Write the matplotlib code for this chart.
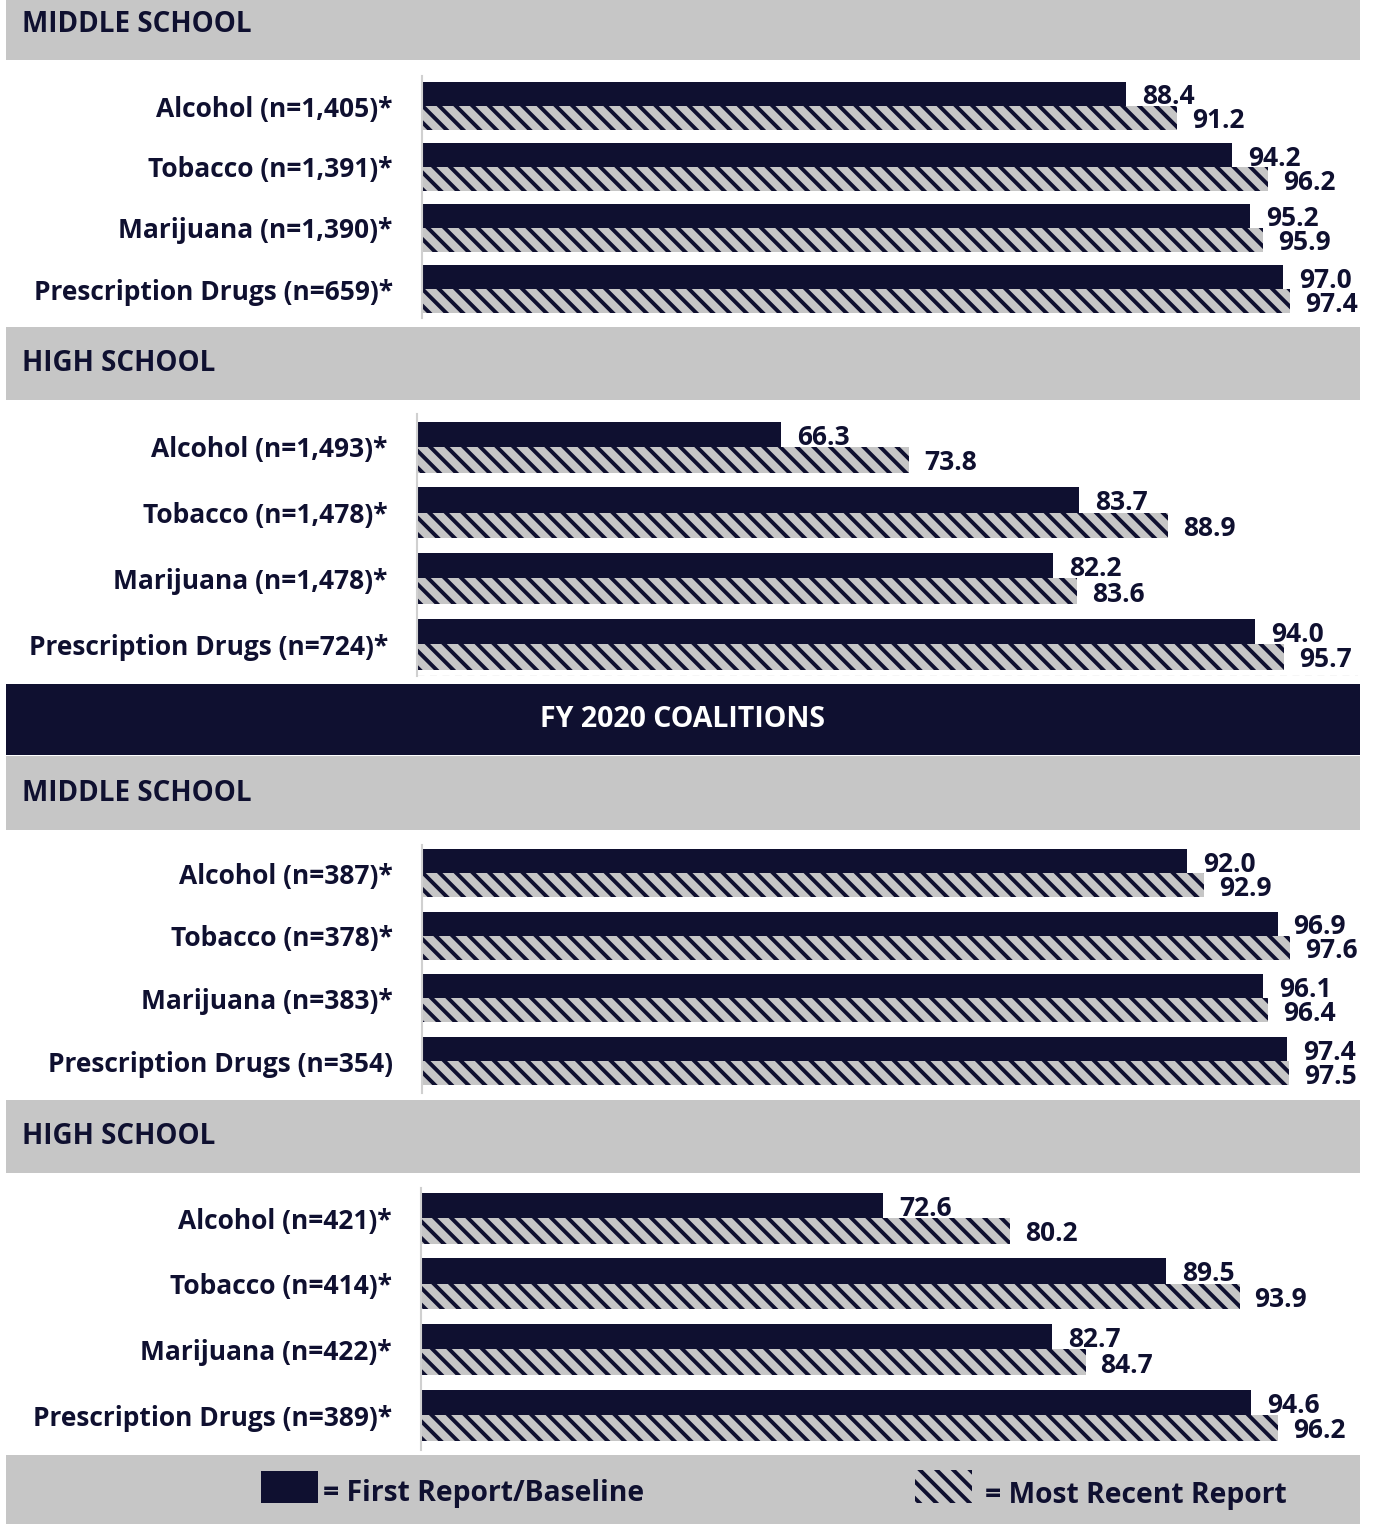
import matplotlib.pyplot as plt
from matplotlib.patches import Rectangle

W, H = 1375, 1524
NAVY = '#0f1030'
GRAY = '#c6c6c6'

plt.rcParams['font.family'] = 'Open Sans'
plt.rcParams['font.weight'] = 'bold'
plt.rcParams['hatch.linewidth'] = 2.8

# values (percent), first report vs. most recent report
ms_labels = ['Alcohol (n=1,405)*', 'Tobacco (n=1,391)*', 'Marijuana (n=1,390)*', 'Prescription Drugs (n=659)*']
ms_first = [88.4, 94.2, 95.2, 97.0]
ms_recent = [91.2, 96.2, 95.9, 97.4]

hs_labels = ['Alcohol (n=1,493)*', 'Tobacco (n=1,478)*', 'Marijuana (n=1,478)*', 'Prescription Drugs (n=724)*']
hs_first = [66.3, 83.7, 82.2, 94.0]
hs_recent = [73.8, 88.9, 83.6, 95.7]

fy20_ms_labels = ['Alcohol (n=387)*', 'Tobacco (n=378)*', 'Marijuana (n=383)*', 'Prescription Drugs (n=354)']
fy20_ms_first = [92.0, 96.9, 96.1, 97.4]
fy20_ms_recent = [92.9, 97.6, 96.4, 97.5]

fy20_hs_labels = ['Alcohol (n=421)*', 'Tobacco (n=414)*', 'Marijuana (n=422)*', 'Prescription Drugs (n=389)*']
fy20_hs_first = [72.6, 89.5, 82.7, 94.6]
fy20_hs_recent = [80.2, 93.9, 84.7, 96.2]

fig = plt.figure(figsize=(W / 100, H / 100), dpi=100)


def band(y0, y1, color, text, text_color=NAVY, center=False, size=20):
    fig.add_artist(Rectangle((6 / W, 1 - y1 / H), 1354 / W, (y1 - y0) / H,
                             transform=fig.transFigure, facecolor=color, edgecolor='none'))
    if text:
        if center:
            fig.text(683 / W, 1 - ((y0 + y1) / 2) / H, text, color=text_color, size=size,
                     ha='center', va='center')
        else:
            fig.text(22 / W, 1 - ((y0 + y1) / 2) / H, text, color=text_color, size=size,
                     ha='left', va='center')


def panel(labels, first, recent, top, bottom, left, xmin, scale, c0, sp, bh):
    width = (100 - xmin) * scale
    ax = fig.add_axes([left / W, 1 - bottom / H, width / W, (bottom - top) / H])
    y = list(range(len(labels)))
    h = bh / sp
    ax.barh([i - h / 2 for i in y], first, height=h, left=0, color=NAVY, linewidth=0)
    ax.barh([i + h / 2 for i in y], recent, height=h, left=0, color=GRAY,
            edgecolor=NAVY, hatch='\\\\', linewidth=0)
    for i in y:
        ax.annotate(f'{first[i]:.1f}', xy=(first[i], i - h / 2), xytext=(16, -3),
                    textcoords='offset pixels', va='center', ha='left', color=NAVY, size=19)
        ax.annotate(f'{recent[i]:.1f}', xy=(recent[i], i + h / 2), xytext=(15, -3),
                    textcoords='offset pixels', va='center', ha='left', color=NAVY, size=19)
    ax.set_xlim(xmin, 100)
    ax.set_ylim((bottom - c0) / sp, (top - c0) / sp)
    ax.set_yticks(y)
    ax.set_yticklabels(labels, color=NAVY, size=19)
    ax.tick_params(axis='y', length=0, pad=21)
    ax.set_xticks([])
    for s in ['top', 'right', 'bottom']:
        ax.spines[s].set_visible(False)
    ax.spines['left'].set_color('#d0d0d0')
    ax.spines['left'].set_linewidth(1.5)
    ax.patch.set_alpha(0)
    return ax


band(0, 60, GRAY, None)
fig.text(22 / W, 1 - 24 / H, 'MIDDLE SCHOOL', color=NAVY, size=20, ha='left', va='center')
panel(ms_labels, ms_first, ms_recent, 76, 318, 422, 49.7, 18.2, 106, 61, 24)

band(327, 400, GRAY, 'HIGH SCHOOL')
ax2 = panel(hs_labels, hs_first, hs_recent, 414, 676, 417, 45.0, 17.1, 447, 65.7, 25.5)
ax2.axhline(ax2.get_ylim()[0], color='#d6d6d6', lw=1, ls=(0, (5, 4)))

band(684, 755, NAVY, 'FY 2020 COALITIONS', text_color='white', center=True, size=20.5)
band(756, 830, GRAY, 'MIDDLE SCHOOL')
panel(fy20_ms_labels, fy20_ms_first, fy20_ms_recent, 845, 1093, 422, 50.4, 18.4, 873, 62.7, 24)

band(1100, 1173, GRAY, 'HIGH SCHOOL')
panel(fy20_hs_labels, fy20_hs_first, fy20_hs_recent, 1188, 1450, 421, 45.0, 16.74, 1218, 65.7, 25.5)

# legend strip
band(1455, 1524, GRAY, None)
fig.add_artist(Rectangle((261 / W, 1 - 1503 / H), 57 / W, 32 / H, transform=fig.transFigure,
                         facecolor=NAVY, edgecolor='none'))
fig.text(323 / W, 1 - 1494 / H, '= First Report/Baseline', color=NAVY, size=20.3, va='center')
fig.add_artist(Rectangle((915 / W, 1 - 1503 / H), 57 / W, 33 / H, transform=fig.transFigure,
                         facecolor=GRAY, edgecolor=NAVY, hatch='\\\\', linewidth=0))
fig.text(985 / W, 1 - 1496 / H, '= Most Recent Report', color=NAVY, size=20.3, va='center')

fig.savefig('out.png', dpi=100)
